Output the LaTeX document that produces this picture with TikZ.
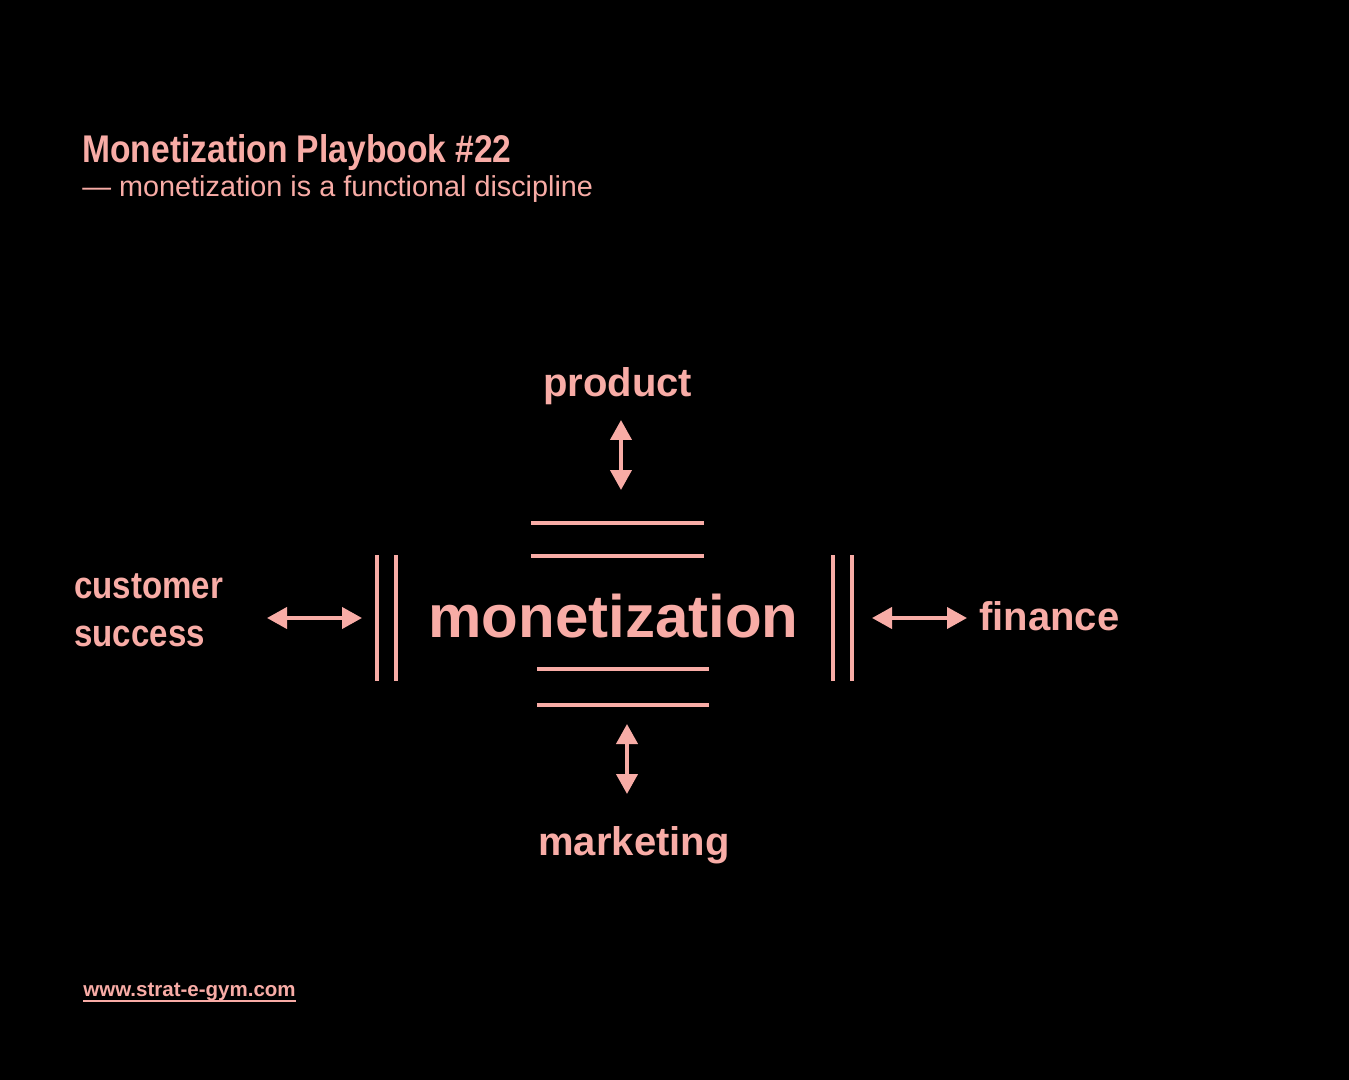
\documentclass[tikz,border=0pt]{standalone}
\usepackage{fontspec}
\setmainfont{Liberation Sans}
\newfontfamily\condbold[FakeStretch=0.87]{Liberation Sans Bold}
\usetikzlibrary{arrows.meta}
\definecolor{pink}{RGB}{248,172,166}
\tikzset{
  lbl/.style={text=pink, inner sep=0pt, anchor=base west},
  bar/.style={draw=pink, line width=2.2pt},
  dbl/.style={draw=pink, line width=2pt, {Triangle[length=10pt,width=10.5pt]}-{Triangle[length=10pt,width=10.5pt]}}
}
\begin{document}
\begin{tikzpicture}[x=0.5pt,y=-0.5pt]
\fill[black] (0,0) rectangle (1349,1080);
\useasboundingbox (0,0) rectangle (1349,1080);
% title
\node[lbl] (title) at (82,163) {\condbold\fontsize{19.3pt}{22pt}\selectfont Monetization Playbook \#22};
\node[lbl] (sub) at (82,197) {\fontsize{14.4pt}{17pt}\selectfont — monetization is a functional discipline};
% center
\node[lbl] (mon) at (428,637) {\bfseries\fontsize{30pt}{34pt}\selectfont monetization};
\node[lbl] (prod) at (543,397) {\bfseries\fontsize{20pt}{24pt}\selectfont product};
\node[lbl] (fin) at (979,630) {\bfseries\fontsize{20pt}{24pt}\selectfont finance};
\node[lbl] (mkt) at (538,855) {\bfseries\fontsize{20pt}{24pt}\selectfont marketing};
\node[lbl] (cust) at (74,598) {\condbold\fontsize{19pt}{22pt}\selectfont customer};
\node[lbl] (succ) at (74,646) {\condbold\fontsize{19pt}{22pt}\selectfont success};
\node[lbl] (web) at (83,996) {\bfseries\fontsize{10.25pt}{12pt}\selectfont www.strat-e-gym.com};
\draw[draw=pink, line width=0.8pt] (web.base west) ++(0,5) -- ++(213,0);
% bars
\draw[bar] (531,523) -- (704,523);
\draw[bar] (531,556) -- (704,556);
\draw[bar] (537,669) -- (709,669);
\draw[bar] (537,705) -- (709,705);
\draw[bar] (377,555) -- (377,681);
\draw[bar] (396,555) -- (396,681);
\draw[bar] (833,555) -- (833,681);
\draw[bar] (852,555) -- (852,681);
% arrows
\coordinate (pa) at (621,420); \coordinate (pb) at (621,490);
\coordinate (ma) at (627,724); \coordinate (mb) at (627,794);
\coordinate (la) at (267,618); \coordinate (lb) at (362,618);
\coordinate (ra) at (872,618); \coordinate (rb) at (967,618);
\draw[dbl] (pa) -- (pb);
\draw[dbl] (ma) -- (mb);
\draw[dbl] (la) -- (lb);
\draw[dbl] (ra) -- (rb);
\end{tikzpicture}
\end{document}
